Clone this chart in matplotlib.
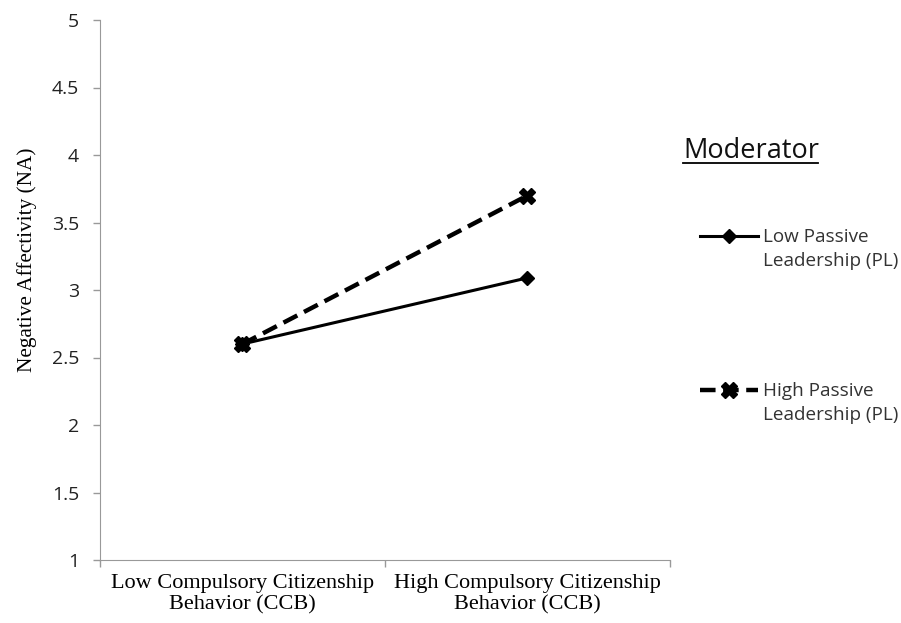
import matplotlib.pyplot as plt
from matplotlib.lines import Line2D

categories = ["Low Compulsory Citizenship\nBehavior (CCB)", "High Compulsory Citizenship\nBehavior (CCB)"]
low_pl = [2.6, 3.09]
high_pl = [2.6, 3.7]
series_names = ["Low Passive\nLeadership (PL)", "High Passive\nLeadership (PL)"]
yticks = [1, 1.5, 2, 2.5, 3, 3.5, 4, 4.5, 5]

fig = plt.figure(figsize=(9.01, 6.23), dpi=100)
ax = fig.add_axes([100 / 901, 1 - 560 / 623, 570 / 901, 540 / 623])

xpos = [0.5, 1.5]
ax.plot(xpos, low_pl, color="black", lw=2.2, marker="D", ms=7)
ax.plot(xpos, high_pl, color="black", lw=3.2, ls=(0, (3.5, 1.7)), marker="X", ms=11)

ax.set_xlim(0, 2)
ax.set_ylim(1, 5)
ax.set_yticks(yticks)
ax.set_yticklabels([f"{t:g}" for t in yticks], fontfamily="Open Sans", fontsize=14, color="#222222")
ax.set_xticks([0, 1, 2])
ax.set_xticklabels([])
ax.tick_params(axis="both", color="#999999", length=5, width=1)
ax.tick_params(axis="y", pad=10)
for s in ["top", "right"]:
    ax.spines[s].set_visible(False)
for s in ["left", "bottom"]:
    ax.spines[s].set_color("#999999")

for x, lab in zip(xpos, categories):
    ax.text(x, -0.026, lab, ha="center", va="top", fontfamily="Liberation Serif",
            fontsize=16, linespacing=1.18, transform=ax.get_xaxis_transform())

ax.set_ylabel("Negative Affectivity (NA)", fontfamily="Liberation Serif", fontsize=15.3)
ax.yaxis.set_label_coords(-0.11, 0.556)

# legend drawn by hand
fig.text(683 / 901, 1 - 151 / 623, "Moderator", fontfamily="Open Sans", fontsize=19.5,
         va="center", color="#111111")
fig.add_artist(Line2D([683 / 901, 818 / 901], [1 - 163 / 623] * 2, color="black", lw=1.3))

lx = [700 / 901, 729 / 901, 758 / 901]
fig.add_artist(Line2D(lx, [1 - 236 / 623] * 3, color="black", lw=2.2,
                      marker="D", ms=7, markevery=[1]))
fig.add_artist(Line2D(lx, [1 - 390 / 623] * 3, color="black", lw=3.2,
                      ls=(0, (3.5, 1.7)), marker="X", ms=11, markevery=[1]))

fig.text(763 / 901, 1 - 249 / 623, series_names[0], fontfamily="Open Sans", fontsize=13.6,
         va="center", color="#333333", linespacing=1.45)
fig.text(763 / 901, 1 - 403 / 623, series_names[1], fontfamily="Open Sans", fontsize=13.6,
         va="center", color="#333333", linespacing=1.45)

fig.savefig("out.png", dpi=100)
